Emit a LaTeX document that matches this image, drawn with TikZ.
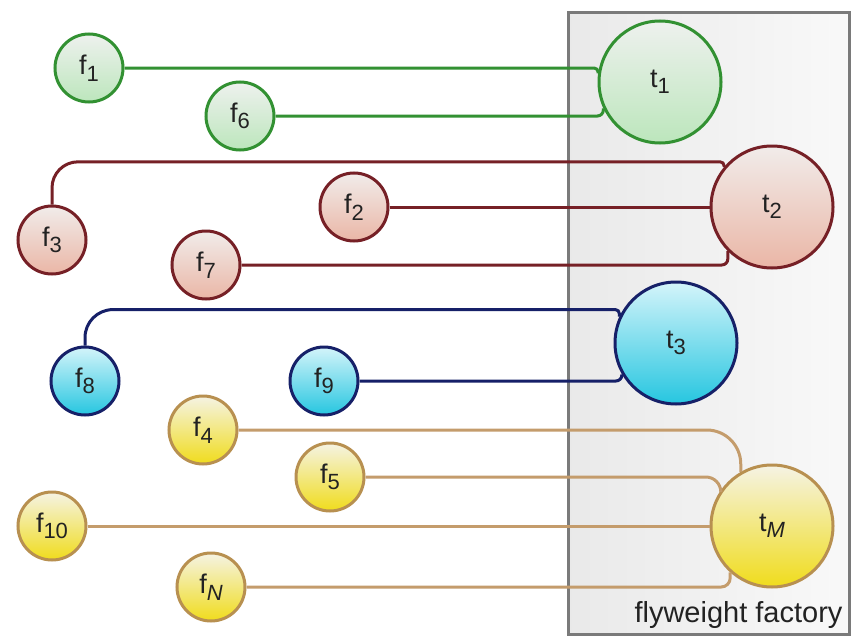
\documentclass[tikz,border=0pt]{standalone}
\usepackage{fontspec}
\setmainfont{Liberation Sans}
\usepackage{xcolor}
\usepackage{tikz}
\usetikzlibrary{positioning}

\definecolor{grnline}{RGB}{50,145,50}
\definecolor{grntop}{RGB}{238,241,238}
\definecolor{grnbot}{RGB}{188,230,188}
\definecolor{redline}{RGB}{118,32,38}
\definecolor{redtop}{RGB}{241,236,234}
\definecolor{redbot}{RGB}{234,182,166}
\definecolor{bluline}{RGB}{22,32,104}
\definecolor{blutop}{RGB}{212,244,250}
\definecolor{blubot}{RGB}{38,198,224}
\definecolor{tanline}{RGB}{196,156,108}
\definecolor{tanedge}{RGB}{184,144,80}
\definecolor{yeltop}{RGB}{245,243,228}
\definecolor{yelbot}{RGB}{240,220,28}
\definecolor{labeltext}{RGB}{34,34,34}
\definecolor{factoryedge}{RGB}{122,122,122}

\newcommand\lsub[1]{\raisebox{-6.5pt}{\fontsize{22}{22}\selectfont#1}}

\begin{document}
\begin{tikzpicture}[x=1pt, y=-1pt,
  fnode/.style={circle, minimum size=68pt, inner sep=0pt, line width=3pt,
                text=labeltext, font=\fontsize{27}{27}\selectfont},
  tnode/.style={fnode, minimum size=122pt},
  grn/.style={draw=grnline, top color=grntop, bottom color=grnbot},
  rd/.style={draw=redline, top color=redtop, bottom color=redbot},
  blu/.style={draw=bluline, top color=blutop, bottom color=blubot},
  yel/.style={draw=tanedge, top color=yeltop, bottom color=yelbot},
  link/.style={line width=3pt}
]
  \useasboundingbox (0,0) rectangle (852,637);
  \fill[white] (0,0) rectangle (852,637);

  \draw[line width=3pt, draw=factoryedge, left color=gray!17, right color=gray!5]
    (568,12) rectangle (849,634);
  \node[anchor=base east, text=labeltext, font=\fontsize{29}{29}\selectfont]
    (factory) at (846,622) {flyweight factory};

  \node[tnode, grn] (t1) at (660,82)  {t\lsub{1}};
  \node[tnode, rd]  (t2) at (772,207) {t\lsub{2}};
  \node[tnode, blu] (t3) at (676,343) {t\lsub{3}};
  \node[tnode, yel] (tM) at (772,526) {t\lsub{\textit{M}}};

  \node[fnode, grn] (f1)  at (89,68)   {f\lsub{1}};
  \node[fnode, grn] (f6)  at (240,116) {f\lsub{6}};
  \node[fnode, rd]  (f3)  at (52,240)  {f\lsub{3}};
  \node[fnode, rd]  (f2)  at (354,207) {f\lsub{2}};
  \node[fnode, rd]  (f7)  at (206,265) {f\lsub{7}};
  \node[fnode, blu] (f8)  at (85,381)  {f\lsub{8}};
  \node[fnode, blu] (f9)  at (324,381) {f\lsub{9}};
  \node[fnode, yel] (f4)  at (203,430) {f\lsub{4}};
  \node[fnode, yel] (f5)  at (330,477) {f\lsub{5}};
  \node[fnode, yel] (f10) at (52,526)  {f\lsub{10}};
  \node[fnode, yel] (fN)  at (211,587) {f\lsub{\textit{N}}};

  \coordinate (bend3) at ([yshift=5pt]t2.140);
  \coordinate (bend8) at ([yshift=7pt]t3.155);

  \draw[link, grnline, rounded corners=4pt] (f1.east) -| (t1.172);
  \draw[link, grnline, rounded corners=6pt] (f6.east) -| (t1.205);

  \draw[link, redline] (f3.north) [rounded corners=26pt] -- (f3.north |- bend3)
    [rounded corners=4pt] -- (bend3) -- (t2.140);
  \draw[link, redline] (f2.east) -- (t2.west);
  \draw[link, redline, rounded corners=6pt] (f7.east) -| (t2.225);

  \draw[link, bluline] (f8.north) [rounded corners=28pt] -- (f8.north |- bend8)
    [rounded corners=4pt] -- (bend8) -- (t3.155);
  \draw[link, bluline, rounded corners=6pt] (f9.east) -| (t3.210);

  \draw[link, tanline, rounded corners=34pt] (f4.east) -| (tM.120);
  \draw[link, tanline, rounded corners=15pt] (f5.east) -| (tM.145);
  \draw[link, tanline] (f10.east) -- (tM.west);
  \draw[link, tanline, rounded corners=9pt] (fN.east) -| (tM.228);
\end{tikzpicture}
\end{document}
